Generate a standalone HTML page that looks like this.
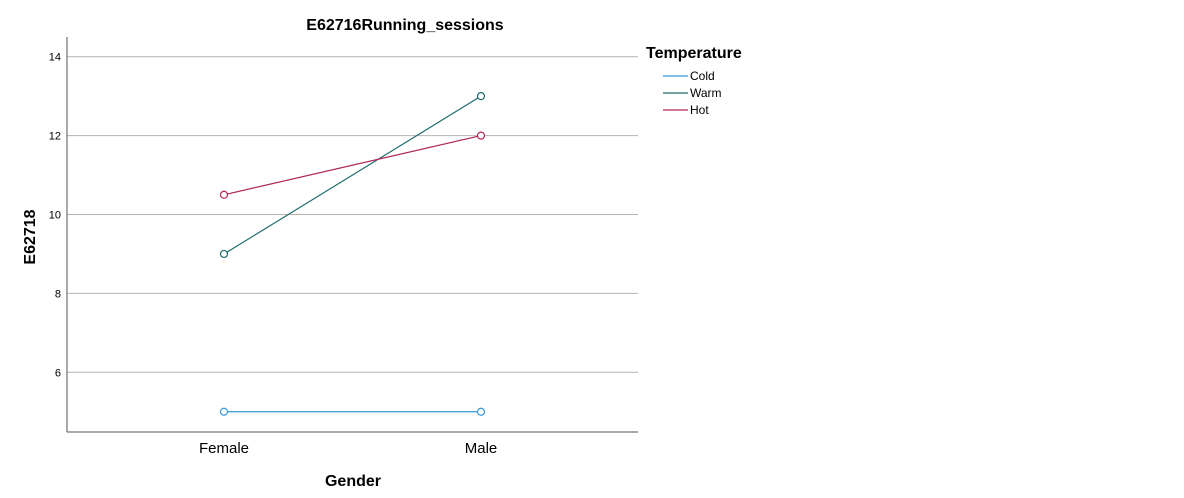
<!DOCTYPE html>
<html><head><meta charset="utf-8"><style>
body{margin:0;background:#fff;font-family:"Liberation Sans",Arial,sans-serif;}
</style></head><body>
<svg width="1184" height="493" xmlns="http://www.w3.org/2000/svg" font-family="Liberation Sans, Arial, sans-serif">
<text x="405" y="30" font-size="16" font-weight="bold" text-anchor="middle">E62716Running_sessions</text>
<g id="grid"></g>
<g id="yticks"></g>
<line x1="67" y1="37" x2="67" y2="432" stroke="#555" stroke-width="1"/>
<line x1="67" y1="432" x2="638" y2="432" stroke="#555" stroke-width="1"/>
<g id="xticks"></g>
<g id="series"></g>
<text x="353" y="486" font-size="16" font-weight="bold" text-anchor="middle">Gender</text>
<text transform="translate(35,237) rotate(-90)" font-size="16" font-weight="bold" text-anchor="middle">E62718</text>
<text x="646" y="58" font-size="16" font-weight="bold">Temperature</text>
<g id="legend"></g>
</svg>
<script>
const categories=["Female","Male"];
const seriesNames=["Cold","Warm","Hot"];
const cold=[5,5];
const warm=[9,13];
const hot=[10.5,12];
const yTicks=[6,8,10,12,14];
const colors=["#3399dd","#1f6b6b","#b0245a"];
const NS="http://www.w3.org/2000/svg";
function y(v){return 56.7+(14-v)*39.45;}
function x(i){return 224+i*257;}
function mk(tag,attrs,parent){const e=document.createElementNS(NS,tag);for(const k in attrs)e.setAttribute(k,attrs[k]);parent.appendChild(e);return e;}
const grid=document.getElementById('grid'),yt=document.getElementById('yticks'),xt=document.getElementById('xticks'),sg=document.getElementById('series'),lg=document.getElementById('legend');
yTicks.forEach(t=>{
 const l=mk('line',{x1:67,x2:638,y1:y(t),y2:y(t),stroke:'#b4b4b4','stroke-width':1},grid);
 
 
 const tx=mk('text',{x:61,y:y(t)+4,'font-size':11,'text-anchor':'end'},yt);tx.textContent=t;
 
 
});
categories.forEach((c,i)=>{
 const tx=mk('text',{x:x(i),y:453,'font-size':15,'text-anchor':'middle'},xt);tx.textContent=c;
 
 
});
[cold,warm,hot].forEach((vals,s)=>{
 const pts=vals.map((v,i)=>x(i)+','+y(v)).join(' ');
 const pl=mk('polyline',{points:pts,fill:'none',stroke:colors[s],'stroke-width':1.2},sg);
 
 
 vals.forEach((v,i)=>{
  const c=mk('circle',{cx:x(i),cy:y(v),r:3.5,fill:'#fff',stroke:colors[s],'stroke-width':1.2},sg);
  
  
 });
 const ly=76+s*17;
 const ll=mk('line',{x1:663,x2:688,y1:ly,y2:ly,stroke:colors[s],'stroke-width':1.2},lg);
 
 
 const lt=mk('text',{x:690,y:ly+4,'font-size':12},lg);lt.textContent=seriesNames[s];
 
 
});
</script>
</body></html>
